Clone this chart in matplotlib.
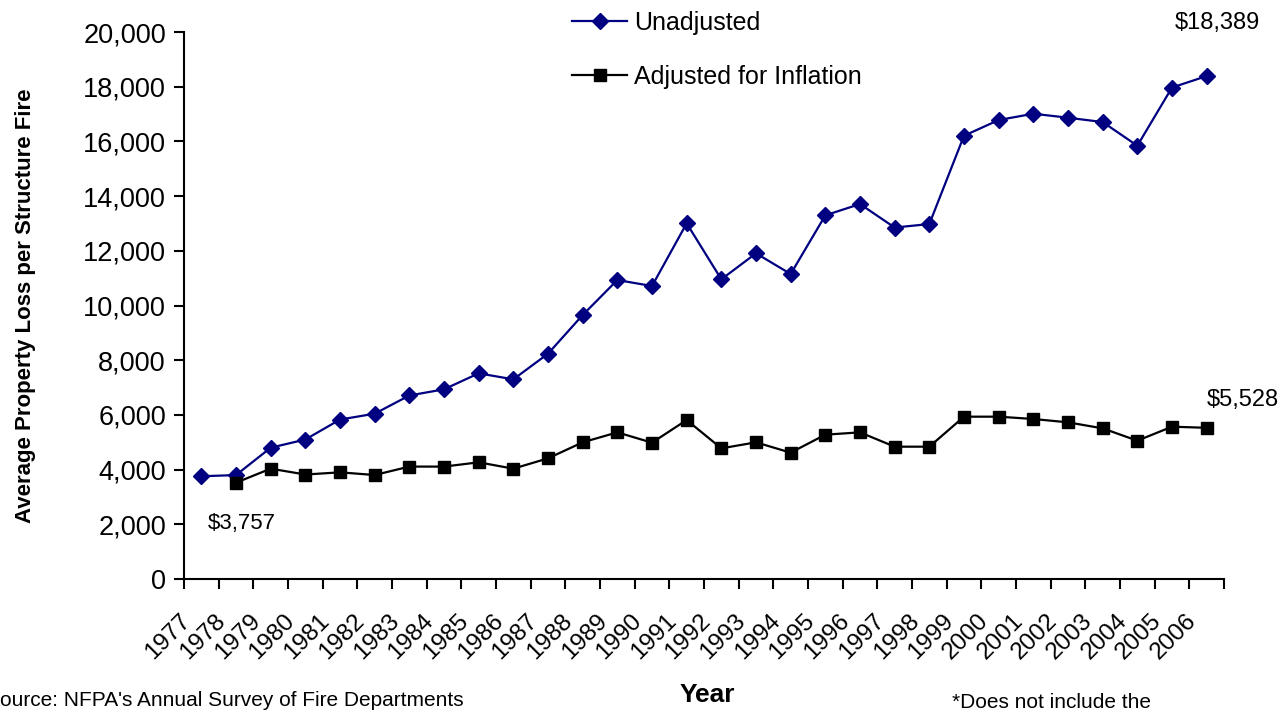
import numpy as np
import matplotlib.pyplot as plt
from matplotlib.transforms import ScaledTranslation

plt.rcParams['font.family'] = ['Liberation Sans', 'DejaVu Sans']

years = list(range(1977, 2007))
unadjusted = [3757, 3800, 4800, 5100, 5830, 6044, 6710, 6935, 7520, 7300,
              8237, 9652, 10931, 10712, 13004, 10957, 11908, 11151, 13297, 13710,
              12850, 12979, 16207, 16781, 17012, 16866, 16708, 15842, 17970, 18389]
# inflation-adjusted series starts in 1978
adjusted = [np.nan, 3522, 4034, 3820, 3900, 3802, 4110, 4110, 4266, 4034,
            4412, 4997, 5362, 4984, 5813, 4777, 4997, 4619, 5277, 5362,
            4838, 4838, 5935, 5935, 5850, 5728, 5508, 5057, 5569, 5528]

fig = plt.figure(figsize=(12.85, 7.1), dpi=100)
ax = fig.add_axes([184 / 1285, 1 - 579 / 710, 1040 / 1285, 547 / 710])

x = np.arange(len(years))
ax.plot(x, unadjusted, color='#000080', lw=1.6, marker='D', ms=8,
        label='Unadjusted')
ax.plot(x, adjusted, color='black', lw=1.6, marker='s', ms=9,
        label='Adjusted for Inflation')

ax.set_xlim(-0.5, len(years) - 0.5)
ax.set_ylim(0, 20000)
ax.set_yticks(np.arange(0, 20001, 2000))
ax.set_yticklabels([f'{v:,}' for v in range(0, 20001, 2000)])

# tick marks sit between categories, labels sit on categories
ax.set_xticks(np.arange(-0.5, len(years), 1.0))
ax.set_xticklabels([])
ax.set_xticks(x, minor=True)
ax.set_xticklabels([str(y) for y in years], minor=True, rotation=45,
                   ha='right', va='top', fontsize=17.5)
ax.tick_params(axis='x', which='minor', length=0, pad=22)
ax.tick_params(axis='x', which='major', length=7, width=1.5, direction='out')
ax.tick_params(axis='y', length=7, width=1.5, direction='out', labelsize=19.5,
               pad=6)
shift = ScaledTranslation(-6 / 100, 0, fig.dpi_scale_trans)
for lbl in ax.get_xticklabels(minor=True):
    lbl.set_transform(lbl.get_transform() + shift)

for side in ['top', 'right']:
    ax.spines[side].set_visible(False)
for side in ['left', 'bottom']:
    ax.spines[side].set_linewidth(1.5)

ax.set_ylabel('Average Property Loss per Structure Fire', fontsize=16,
              fontweight='bold', labelpad=34)

ax.annotate('$3,757', xy=(0, unadjusted[0]), xytext=(5, -34),
            textcoords='offset points', ha='left', va='center', fontsize=16)
ax.annotate('$18,389', xy=(29, unadjusted[-1]), xytext=(8, 38),
            textcoords='offset points', ha='center', va='center', fontsize=17)
ax.annotate('$5,528', xy=(29, adjusted[-1]), xytext=(0, 20),
            textcoords='offset points', ha='left', va='center', fontsize=17)

fig.legend(loc='upper left', bbox_to_anchor=(572 / 1285, 1 - 11 / 710),
           frameon=False, fontsize=18, borderpad=0, borderaxespad=0,
           handlelength=2.2, handletextpad=0.3, labelspacing=1.2)

fig.text(-14 / 1285, 1 - 700 / 710, "Source: NFPA's Annual Survey of Fire Departments",
         ha='left', va='center', fontsize=15)
fig.text(707 / 1285, 1 - 695 / 710, 'Year', ha='center', va='center',
         fontsize=19, fontweight='bold')
fig.text(952 / 1285, 1 - 703 / 710, '*Does not include the',
         ha='left', va='center', fontsize=15)

fig.savefig('out.png', dpi=100)
